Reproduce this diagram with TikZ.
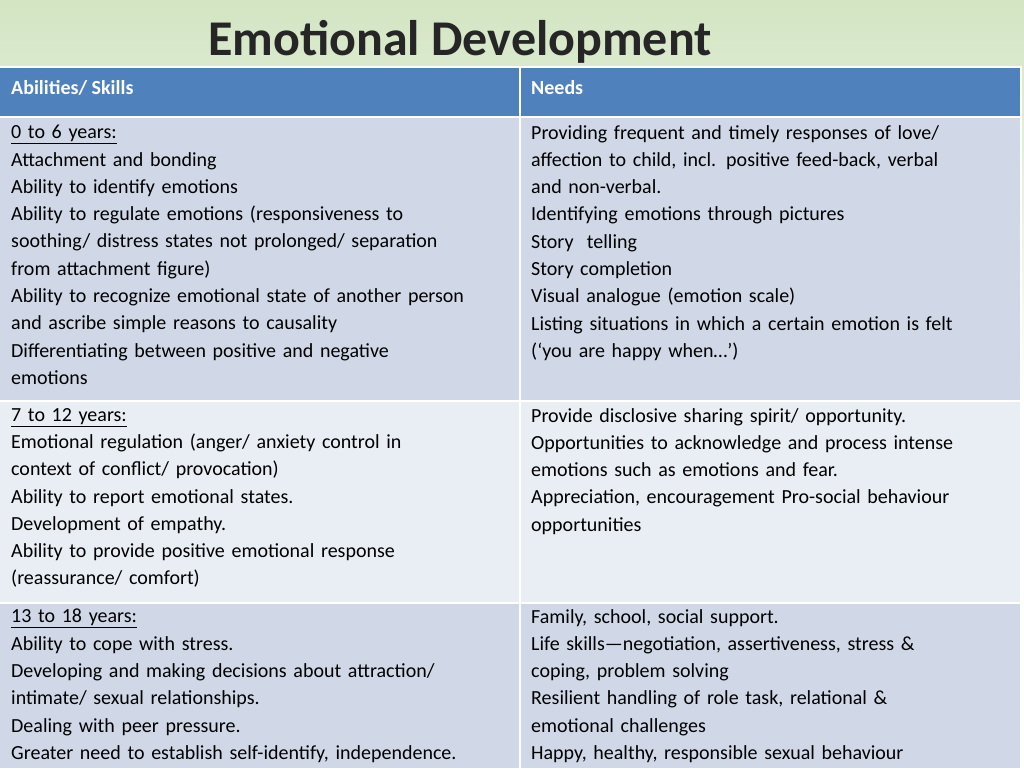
\documentclass[tikz,border=0pt]{standalone}
\usepackage{fontspec}
\setmainfont{Carlito}
\definecolor{hdr}{HTML}{4F81BD}
\definecolor{rowa}{HTML}{D0D8E8}
\definecolor{rowb}{HTML}{E9EDF4}
\definecolor{bgtop}{HTML}{D3E5C3}
\tikzset{cell/.style={anchor=north west,inner sep=0pt,align=left,text width=505pt,font=\fontsize{20}{27.3}\selectfont},
hd/.style={anchor=west,inner sep=0pt,text=white,font=\fontsize{20}{24}\selectfont\bfseries}}
\begin{document}
\begin{tikzpicture}[x=1pt,y=-1pt]
\clip (0,0) rectangle (1024,768);
\shade[top color=bgtop,bottom color=white] (0,0) rectangle (1024,400);
\fill[white] (0,400) rectangle (1024,768);
\node[font=\fontsize{50}{60}\selectfont\bfseries,text=black!85] (title) at (460,42) {Emotional Development};
\fill[white] (0,66) rectangle (1022,768);
\fill[hdr] (0,68) rectangle (519,116);
\fill[hdr] (521,68) rectangle (1020,116);
\fill[rowa] (0,118) rectangle (519,400);
\fill[rowa] (521,118) rectangle (1020,400);
\fill[rowb] (0,402) rectangle (519,602);
\fill[rowb] (521,402) rectangle (1020,602);
\fill[rowa] (0,604) rectangle (519,768);
\fill[rowa] (521,604) rectangle (1020,768);
\node[hd] (h1) at (11,88) {Abilities/ Skills};
\node[hd] (h2) at (531,88) {Needs};
\node[cell] (a1) at (11,125) {\underline{0 to 6 years:}\\Attachment and bonding\\Ability to identify emotions\\Ability to regulate emotions (responsiveness to\\soothing/ distress states not prolonged/ separation\\from attachment figure)\\Ability to recognize emotional state of another person\\and ascribe simple reasons to causality\\Differentiating between positive and negative\\emotions};
\node[cell] (b1) at (531,125) {Providing frequent and timely responses of love/\\affection to child, incl. positive feed-back, verbal\\and non-verbal.\\Identifying emotions through pictures\\Story\ \ telling\\Story completion\\Visual analogue (emotion scale)\\Listing situations in which a certain emotion is felt\\(‘you are happy when…’)};
\node[cell] (a2) at (11,408) {\underline{7 to 12 years:}\\Emotional regulation (anger/ anxiety control in\\context of conflict/ provocation)\\Ability to report emotional states.\\Development of empathy.\\Ability to provide positive emotional response\\(reassurance/ comfort)};
\node[cell] (b2) at (531,408) {Provide disclosive sharing spirit/ opportunity.\\Opportunities to acknowledge and process intense\\emotions such as emotions and fear.\\Appreciation, encouragement Pro-social behaviour\\opportunities};
\node[cell] (a3) at (11,609) {\underline{13 to 18 years:}\\Ability to cope with stress.\\Developing and making decisions about attraction/\\intimate/ sexual relationships.\\Dealing with peer pressure.\\Greater need to establish self-identify, independence.};
\node[cell] (b3) at (531,609) {Family, school, social support.\\Life skills—negotiation, assertiveness, stress \&\\coping, problem solving\\Resilient handling of role task, relational \&\\emotional challenges\\Happy, healthy, responsible sexual behaviour};
\end{tikzpicture}
\end{document}
